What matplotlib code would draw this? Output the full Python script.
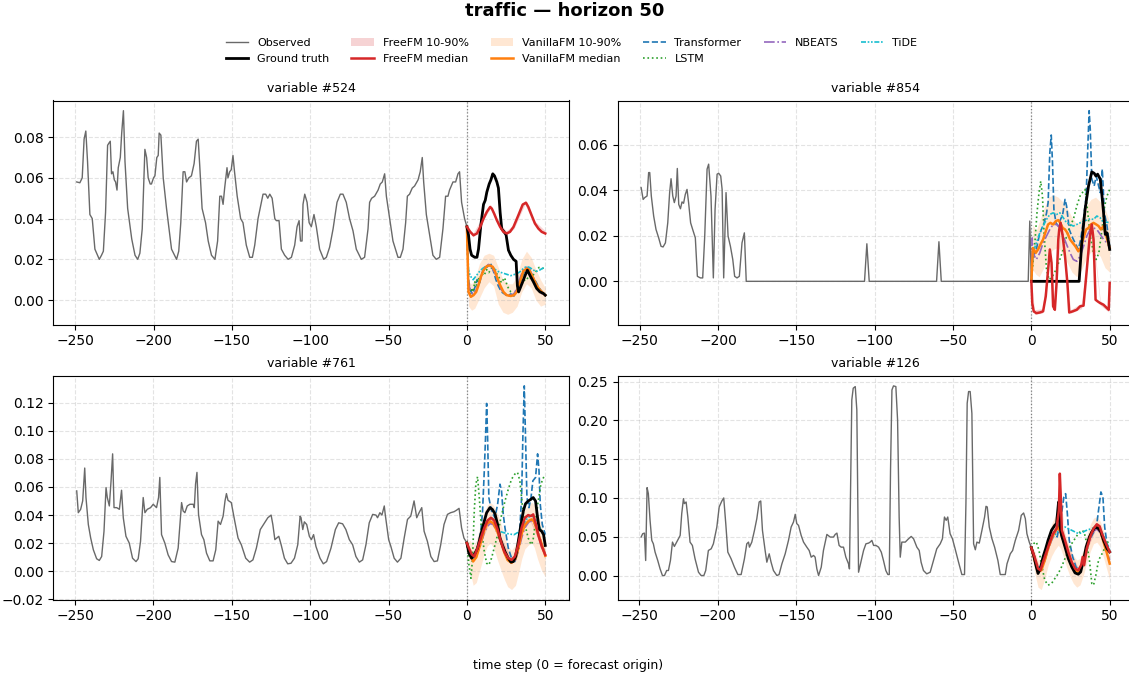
import matplotlib
matplotlib.use('Agg')
import matplotlib.pyplot as plt
import numpy as np

# ---- panel: variable #524 ----
OBS_524 = [(-249, 0.058), (-247, 0.0576), (-245.5, 0.060), (-244.3, 0.079), (-243.2, 0.083), (-242.1, 0.068),
           (-240.6, 0.042), (-239.1, 0.040), (-237.4, 0.025), (-234.6, 0.020), (-233.2, 0.022), (-232, 0.024),
           (-230.6, 0.043), (-229.3, 0.076), (-228.5, 0.077), (-227.6, 0.078), (-226.8, 0.062), (-225.9, 0.063),
           (-225, 0.059), (-224.2, 0.058), (-223.3, 0.054), (-222.5, 0.065), (-221.2, 0.070), (-220.3, 0.082),
           (-219.2, 0.093), (-218.2, 0.068), (-216.5, 0.045), (-213.9, 0.030), (-211.8, 0.022), (-210.1, 0.020),
           (-208.7, 0.023), (-207.2, 0.035), (-205.5, 0.074), (-204.4, 0.070), (-203.4, 0.060), (-202.1, 0.057),
           (-201.3, 0.057), (-200, 0.060), (-199.1, 0.061), (-197.9, 0.070), (-197, 0.071), (-196.4, 0.082),
           (-195.3, 0.081), (-193.8, 0.060), (-191.7, 0.045), (-188.5, 0.025), (-185.3, 0.020), (-183.9, 0.024),
           (-182.6, 0.038), (-181.1, 0.063), (-180, 0.063), (-178.9, 0.058), (-177.5, 0.060), (-175.8, 0.061),
           (-174.1, 0.067), (-172.6, 0.078), (-171.5, 0.079), (-170.5, 0.066), (-169, 0.045), (-166.8, 0.038),
           (-165.1, 0.029), (-163, 0.022), (-160.8, 0.020), (-159.1, 0.029), (-157.7, 0.051), (-156.6, 0.051),
           (-155.6, 0.047), (-154.6, 0.055), (-153.1, 0.065), (-152.5, 0.060), (-151.4, 0.063), (-150.4, 0.064),
           (-149.3, 0.071), (-148.3, 0.063), (-146.6, 0.051), (-144.4, 0.040), (-142.9, 0.038), (-140.8, 0.027),
           (-138.6, 0.021), (-136.9, 0.021), (-135.4, 0.027), (-133.3, 0.040), (-130.1, 0.052), (-128.4, 0.052),
           (-127.1, 0.050), (-125.8, 0.052), (-124.3, 0.050), (-122.6, 0.040), (-121.6, 0.039), (-119.9, 0.039),
           (-118.4, 0.025), (-116.3, 0.022), (-114.1, 0.020), (-112, 0.021), (-109.9, 0.027), (-108.4, 0.036),
           (-107.1, 0.039), (-106.2, 0.029), (-105.2, 0.029), (-104.6, 0.047), (-103.5, 0.052), (-102, 0.048),
           (-100.7, 0.038), (-99.3, 0.036), (-97.6, 0.042), (-96.1, 0.036), (-94, 0.025), (-91.4, 0.020),
           (-89.7, 0.021), (-87.6, 0.026), (-85.4, 0.035), (-82.9, 0.048), (-80.8, 0.052), (-79.1, 0.052),
           (-77, 0.048), (-74.9, 0.040), (-72.7, 0.034), (-70.6, 0.025), (-67.4, 0.020), (-65.3, 0.021),
           (-63.1, 0.035), (-62.1, 0.048), (-60.8, 0.050), (-58.9, 0.051), (-56.7, 0.054), (-55.3, 0.057),
           (-54, 0.058), (-52.5, 0.062), (-51.4, 0.051), (-49.7, 0.042), (-47.2, 0.029), (-44, 0.021),
           (-42.5, 0.021), (-40.8, 0.025), (-39.1, 0.038), (-38, 0.051), (-36.6, 0.052), (-34.9, 0.055),
           (-33.4, 0.056), (-31.2, 0.059), (-29.8, 0.063), (-28.5, 0.070), (-27.6, 0.058), (-25.9, 0.042),
           (-23.8, 0.032), (-21.7, 0.022), (-19.6, 0.020), (-17.4, 0.021), (-15.3, 0.035), (-13.6, 0.051),
           (-12.1, 0.051), (-11.1, 0.054), (-8.9, 0.058), (-7.2, 0.058), (-5.7, 0.062), (-4.7, 0.063),
           (-3.4, 0.048), (-1.5, 0.040), (0, 0.036)]
TRUTH_524 = [(0, 0.036), (1, 0.032), (2, 0.025), (3, 0.022), (5, 0.021), (6.4, 0.021), (7.4, 0.025), (8.9, 0.037),
             (10.6, 0.047), (11.7, 0.049), (12.7, 0.053), (14.2, 0.057), (15.3, 0.059), (16.5, 0.062), (17.6, 0.061),
             (19.1, 0.058), (20.1, 0.055), (21.2, 0.043), (22.2, 0.035), (23.7, 0.0335), (25, 0.032), (26.5, 0.0245),
             (28, 0.022), (29.7, 0.020), (31.4, 0.019), (32.2, 0.007), (33, 0.004), (33.9, 0.0057), (35.6, 0.009),
             (37.1, 0.012), (38.6, 0.0147), (40.3, 0.012), (42.4, 0.009), (44.5, 0.0057), (46.6, 0.004),
             (48.7, 0.0033), (50, 0.0024)]
FREE_524 = [(0, 0.036), (2.1, 0.0335), (4.2, 0.0318), (6.4, 0.0327), (8.5, 0.0359), (10.6, 0.040), (12.7, 0.0433),
            (14.8, 0.0457), (15.9, 0.0449), (17.4, 0.0424), (19.1, 0.0392), (21.2, 0.0359), (23.3, 0.0335),
            (25.4, 0.0327), (27.5, 0.0335), (29.7, 0.0359), (32.8, 0.0416), (35.6, 0.0469), (37.7, 0.0478),
            (39.2, 0.0457), (41.3, 0.0416), (43.4, 0.0376), (45.6, 0.0351), (47.7, 0.0335), (50, 0.0327)]
VAN_524 = [(0, 0.036), (1, 0.004), (2.5, 0.0016), (4.2, 0.0024), (5.9, 0.004), (7.4, 0.0073), (8.9, 0.0114),
           (10.6, 0.0147), (12.7, 0.0167), (14.8, 0.017), (16.5, 0.0163), (18, 0.0139), (19.5, 0.0106),
           (21.2, 0.0073), (23.3, 0.004), (25.4, 0.0024), (28, 0.002), (30.1, 0.0024), (31.8, 0.004), (33.9, 0.009),
           (36, 0.0142), (38.1, 0.0155), (39.8, 0.0147), (41.9, 0.0114), (44.5, 0.0073), (46.6, 0.0049),
           (48.7, 0.0033), (50, 0.0024)]
VAN_BAND_524 = [(0, 0.036, 0.036), (1, -0.003, 0.009), (3, -0.005, 0.008), (5, -0.004, 0.010), (8, 0.001, 0.018),
                (11, 0.006, 0.022), (14, 0.009, 0.023), (17, 0.007, 0.022), (20, -0.002, 0.016), (23, -0.006, 0.010),
                (26, -0.007, 0.008), (29, -0.006, 0.008), (32, -0.003, 0.012), (35, 0.004, 0.020), (38, 0.008, 0.024),
                (41, 0.006, 0.021), (44, 0.000, 0.015), (47, -0.003, 0.010), (50, -0.002, 0.006)]
FREE_BAND_524 = [(0, 0.036, 0.036), (4, 0.031, 0.033), (10, 0.039, 0.041), (15, 0.045, 0.047), (20, 0.037, 0.039),
                 (25, 0.032, 0.034), (30, 0.035, 0.037), (37, 0.047, 0.049), (43, 0.037, 0.039), (50, 0.032, 0.034)]
TRANSFORMER_524 = [(0, 0.036), (1, 0.010), (2, 0.005), (3.5, 0.003), (5, 0.006), (6.5, 0.010), (8, 0.008),
                   (9.5, 0.013), (11, 0.015), (12.5, 0.016), (14, 0.017), (15.5, 0.0175), (17, 0.014), (18.5, 0.010),
                   (20, 0.007), (22, 0.004), (24, 0.003), (26, 0.002), (28, 0.003), (30, 0.002), (32, 0.005),
                   (34, 0.009), (36, 0.013), (38, 0.016), (40, 0.015), (42, 0.011), (44, 0.009), (46, 0.006),
                   (48, 0.004), (50, 0.002)]
LSTM_524 = [(0, 0.036), (1, 0.006), (2, 0.003), (3, 0.006), (4, 0.004), (5, 0.009), (6, 0.007), (7, 0.011),
            (8, 0.010), (9.5, 0.013), (11, 0.012), (12.5, 0.015), (14, 0.0135), (16, 0.016), (18, 0.014), (20, 0.012),
            (22, 0.0085), (24, 0.011), (26, 0.0065), (28, 0.004), (30, 0.003), (32, 0.004), (34, 0.006), (36, 0.009),
            (38, 0.011), (40, 0.010), (42, 0.012), (44, 0.014), (46, 0.016), (48, 0.0155), (50, 0.016)]
NBEATS_524 = [(0, 0.036), (1, 0.008), (2.5, 0.004), (4, 0.003), (6, 0.005), (8, 0.009), (10, 0.014), (12, 0.017),
              (14, 0.0175), (16, 0.016), (18, 0.013), (20, 0.009), (22, 0.005), (24, 0.003), (26, 0.002),
              (28, 0.0025), (30, 0.003), (32, 0.006), (34, 0.011), (36, 0.015), (38, 0.016), (40, 0.015),
              (42, 0.012), (44, 0.008), (46, 0.005), (48, 0.003), (50, 0.003)]
TIDE_524 = [(0, 0.036), (1, 0.015), (2, 0.012), (4, 0.010), (6, 0.012), (8, 0.014), (10, 0.0155), (12, 0.0165),
            (14, 0.017), (16, 0.0165), (18, 0.015), (20, 0.014), (22, 0.0135), (24, 0.013), (26, 0.0125), (28, 0.012),
            (30, 0.0125), (32, 0.013), (34, 0.014), (36, 0.0155), (38, 0.0165), (40, 0.016), (42, 0.015),
            (44, 0.014), (46, 0.0145), (48, 0.0155), (50, 0.016)]

# ---- panel: variable #854 ----
OBS_854 = [(-249.1, 0.0412), (-247.8, 0.036), (-246.8, 0.0368), (-245.3, 0.0375), (-244.3, 0.0478),
           (-243.6, 0.0478), (-242.6, 0.0375), (-241.1, 0.0287), (-239.6, 0.0228), (-237.9, 0.0191),
           (-236.4, 0.0154), (-235.1, 0.0151), (-233.6, 0.0169), (-232.1, 0.0257), (-230.9, 0.039), (-230, 0.0451),
           (-228.9, 0.0375), (-227.9, 0.0346), (-226.8, 0.0375), (-226, 0.0496), (-225.1, 0.0338), (-224, 0.0319),
           (-223, 0.0349), (-222, 0.0343), (-220.9, 0.0382), (-219.8, 0.0404), (-218.8, 0.0346), (-217.5, 0.0257),
           (-216.2, 0.0228), (-214.5, 0.0191), (-213.2, 0.0022), (-211.3, 0.0015), (-209.8, 0.0015),
           (-208.5, 0.0199), (-207, 0.0493), (-206, 0.0515), (-204.5, 0.0375), (-203, 0.0015), (-201.9, 0.0316),
           (-200.6, 0.0471), (-199.6, 0.0475), (-198.3, 0.0463), (-197.4, 0.0404), (-196.4, 0.0015),
           (-194.9, 0.039), (-193.6, 0.0199), (-192.1, 0.0154), (-190.6, 0.0096), (-189.4, 0.0022),
           (-187.9, 0.0015), (-186.4, 0.0022), (-184.7, 0.0169), (-183.2, 0.0213), (-182, 0.0), (-106.5, 0.0),
           (-105, 0.0165), (-103.5, 0.0), (-60.5, 0.0), (-59, 0.0174), (-57.5, 0.0), (-2, 0.0), (-1, 0.0265),
           (0, 0.0)]
TRUTH_854 = [(0, 0.0), (30.5, 0.0), (32.2, 0.0169), (34.3, 0.0316), (36.5, 0.0419), (38.6, 0.0481), (40.1, 0.0475),
             (41.2, 0.0463), (42.3, 0.0471), (44, 0.0449), (45.1, 0.0375), (46.1, 0.0301), (47.2, 0.0206),
             (48.3, 0.0213), (50, 0.014)]
FREE_854 = [(0, 0.0), (0.6, -0.0096), (1.5, -0.0132), (3.2, -0.014), (5.4, -0.0137), (7.5, -0.0132), (9.2, -0.0066),
            (10.7, 0.0051), (11.8, 0.014), (12.9, 0.0081), (13.9, -0.011), (15, -0.0125), (16.1, -0.0007),
            (17.2, 0.0184), (17.8, 0.0228), (18.7, 0.0257), (20, 0.0199), (21.5, 0.011), (23, -0.0007),
            (24.2, -0.0137), (26.4, -0.0132), (29, -0.0125), (31.1, -0.011), (33.3, -0.0107), (35.4, 0.0051),
            (37.1, 0.0184), (38.6, 0.025), (39.7, 0.0184), (41, -0.0081), (42.3, -0.0088), (44, -0.0096),
            (46.1, -0.0103), (48.3, -0.0118), (49.4, -0.0125), (50, -0.0007)]
VAN_854 = [(0, 0.0), (1, 0.0147), (2.8, 0.0125), (4.3, 0.014), (5.8, 0.0162), (7.5, 0.0184), (9.2, 0.022),
           (10.7, 0.025), (12.2, 0.0257), (13.9, 0.025), (15.7, 0.0265), (17.2, 0.0269), (18.2, 0.026), (20, 0.0235),
           (21.5, 0.0228), (23, 0.0213), (24.7, 0.0184), (26.4, 0.0169), (28.1, 0.0154), (30, 0.0132),
           (31.5, 0.0147), (33.3, 0.0191), (35, 0.0228), (36.5, 0.0235), (38, 0.025), (39.7, 0.0257), (41.4, 0.025),
           (42.9, 0.0243), (44.4, 0.0228), (46.1, 0.0243), (47.8, 0.0199), (50, 0.0147)]
VAN_BAND_854 = [(0, 0.0, 0.0), (1, 0.005, 0.025), (3, 0.003, 0.022), (5, 0.002, 0.026), (8, 0.006, 0.032),
                (11, 0.012, 0.037), (14, 0.014, 0.038), (17, 0.015, 0.037), (20, 0.012, 0.035), (23, 0.008, 0.032),
                (26, 0.004, 0.028), (29, 0.002, 0.025), (32, 0.005, 0.028), (35, 0.010, 0.033), (38, 0.013, 0.036),
                (41, 0.013, 0.037), (44, 0.011, 0.035), (47, 0.006, 0.032), (50, 0.004, 0.026)]
FREE_BAND_854 = [(0, 0.0, 0.0), (2, -0.0145, -0.0125), (7, -0.014, -0.012), (12, 0.012, 0.015), (15, -0.0135, -0.011),
                 (19, 0.024, 0.027), (25, -0.014, -0.0125), (32, -0.012, -0.0095), (38.6, 0.023, 0.026),
                 (44, -0.0105, -0.0085), (49.4, -0.0135, -0.0115), (50, -0.0015, 0.0)]
TRANSFORMER_854 = [(0, 0.0), (1, 0.0125), (2, 0.012), (3.2, 0.014), (5, 0.020), (6.4, 0.0228), (7.9, 0.025),
                   (9.7, 0.030), (10.7, 0.0346), (11.8, 0.0566), (12.7, 0.0643), (13.5, 0.0522), (14.4, 0.0316),
                   (15.7, 0.0257), (17.2, 0.0243), (18.2, 0.0265), (20, 0.0294), (21.5, 0.036), (22.5, 0.0331),
                   (24.2, 0.0228), (25.8, 0.0199), (27.9, 0.0169), (30, 0.014), (31.5, 0.0184), (33.3, 0.0272),
                   (35, 0.0375), (36, 0.0581), (36.9, 0.075), (37.6, 0.0669), (38.6, 0.0449), (40.1, 0.0419),
                   (41.4, 0.0463), (42.7, 0.0426), (44, 0.039), (45.3, 0.0493), (46.6, 0.0301), (48.3, 0.0243),
                   (50, 0.0154)]
LSTM_854 = [(0, 0.0007), (2.1, 0.0154), (3.6, 0.0301), (4.9, 0.039), (6, 0.044), (7.1, 0.0375), (8.2, 0.0199),
            (9.7, 0.0051), (11.4, 0.0007), (13.5, 0.0022), (15.7, 0.0051), (18.2, 0.0096), (20.4, 0.014),
            (22.5, 0.0199), (24.7, 0.0243), (26.8, 0.0272), (29, 0.0331), (31.1, 0.0375), (33.3, 0.0397),
            (34.3, 0.0404), (35.8, 0.0316), (37.6, 0.0199), (39.7, 0.0125), (41.4, 0.0096), (43.1, 0.0125),
            (45.1, 0.0228), (46.8, 0.0331), (48.3, 0.0375), (50, 0.0404)]
NBEATS_854 = [(0, 0.0), (0.5, 0.0191), (1.5, 0.0118), (3.2, 0.0096), (5.4, 0.0125), (7.5, 0.0169), (9.7, 0.0199),
              (11.8, 0.0228), (13.9, 0.025), (16.1, 0.025), (18.2, 0.0235), (20.4, 0.0199), (22.5, 0.0162),
              (24.7, 0.0125), (26.8, 0.0096), (29, 0.0088), (31.1, 0.011), (33.3, 0.0154), (35.4, 0.0199),
              (37.6, 0.0228), (39.7, 0.0235), (41.8, 0.0228), (44, 0.0206), (46.1, 0.0184), (48.3, 0.0169),
              (50, 0.0147)]
TIDE_854 = [(0, 0.002), (1, 0.0125), (3.2, 0.0169), (5.4, 0.0213), (7.5, 0.0243), (9.7, 0.0272), (11.8, 0.0294),
            (13.9, 0.0301), (16.1, 0.0294), (18.2, 0.0301), (20.4, 0.0279), (22.5, 0.0257), (24.7, 0.025),
            (26.8, 0.0243), (29, 0.025), (31.1, 0.0257), (33.3, 0.0265), (35.4, 0.0269), (37.6, 0.0275),
            (39.7, 0.0272), (41.8, 0.0287), (44, 0.0279), (46.1, 0.0257), (48.3, 0.026), (50, 0.0257)]

# ---- panel: variable #761 ----
OBS_761 = [(-248.9, 0.0572), (-247.9, 0.0417), (-246.4, 0.0441), (-245.1, 0.0501), (-243.8, 0.0735), (-243, 0.0525),
           (-241.5, 0.0333), (-240, 0.0237), (-238.3, 0.0153), (-236.2, 0.0089), (-234.5, 0.0077), (-233, 0.0105),
           (-231.5, 0.0285), (-230.2, 0.0596), (-229.4, 0.0525), (-228.1, 0.0465), (-227, 0.0644), (-226, 0.0836),
           (-225.1, 0.0453), (-223.4, 0.0453), (-221.7, 0.0441), (-220.3, 0.0577), (-219.2, 0.0381),
           (-217.5, 0.0249), (-215.4, 0.0201), (-213.3, 0.0093), (-211.1, 0.0069), (-209.7, 0.0089),
           (-208.2, 0.0213), (-206.5, 0.0525), (-205.4, 0.0417), (-203.9, 0.0441), (-201.8, 0.0453),
           (-200.1, 0.0477), (-198, 0.0453), (-196.7, 0.0525), (-195.9, 0.0668), (-194.8, 0.0261), (-192.7, 0.0201),
           (-190.6, 0.0117), (-188.4, 0.0069), (-186.3, 0.0065), (-184.2, 0.0165), (-182, 0.0489), (-181, 0.0429),
           (-179.9, 0.0417), (-178.4, 0.0465), (-176.7, 0.0477), (-174.6, 0.0477), (-173.9, 0.0453),
           (-173.1, 0.062), (-172.2, 0.0704), (-171.2, 0.0405), (-169.3, 0.0261), (-167.8, 0.0225), (-166.1, 0.0129),
           (-164, 0.0074), (-161.9, 0.0074), (-160.2, 0.0153), (-158.7, 0.0357), (-157.2, 0.0333), (-155.5, 0.0393),
           (-154.3, 0.0501), (-153.4, 0.0553), (-152.4, 0.0505), (-150.3, 0.0489), (-148.1, 0.0357), (-146, 0.0237),
           (-143.9, 0.0189), (-141.1, 0.0093), (-138.6, 0.0065), (-136.5, 0.0081), (-134.3, 0.0165),
           (-131.8, 0.0297), (-129.1, 0.0345), (-127, 0.0381), (-124.9, 0.040), (-123.8, 0.0333), (-122.5, 0.0225),
           (-121.3, 0.0237), (-120, 0.0249), (-118.5, 0.0189), (-116.4, 0.0093), (-114.3, 0.0053), (-112.2, 0.0057),
           (-110, 0.0093), (-107.9, 0.0189), (-106.4, 0.0393), (-105.8, 0.0381), (-104.7, 0.0297), (-103.7, 0.0352),
           (-102.2, 0.0333), (-100.5, 0.0249), (-99.2, 0.0225), (-97.8, 0.0261), (-96.3, 0.0177), (-93.7, 0.0093),
           (-91.6, 0.0053), (-89.5, 0.0069), (-86.7, 0.0165), (-83.9, 0.0297), (-81.8, 0.0345), (-79.3, 0.0338),
           (-77.2, 0.0297), (-75, 0.0225), (-72.9, 0.0189), (-70.8, 0.0105), (-68.6, 0.0065), (-66.5, 0.0081),
           (-64.4, 0.0189), (-62.3, 0.0345), (-60.1, 0.0405), (-58, 0.040), (-57, 0.0381), (-55.5, 0.0417),
           (-54.2, 0.040), (-52.7, 0.0465), (-52.1, 0.0405), (-49.9, 0.0225), (-48.5, 0.0177), (-46.4, 0.0093),
           (-44.3, 0.0065), (-42.1, 0.0093), (-40, 0.0237), (-37.9, 0.0369), (-35.8, 0.0393), (-33.7, 0.0501),
           (-32, 0.0381), (-30.5, 0.0417), (-28.8, 0.0453), (-27.3, 0.0285), (-25.2, 0.0213), (-23, 0.0105),
           (-20.9, 0.0069), (-18.8, 0.0074), (-16.7, 0.0189), (-14.6, 0.0333), (-12.4, 0.0405), (-10.4, 0.0417),
           (-8.2, 0.0424), (-6.7, 0.0434), (-5, 0.0448), (-3.4, 0.0309), (-1.9, 0.0237), (0, 0.0201)]
TRUTH_761 = [(0, 0.0201), (1.3, 0.0129), (3, 0.0093), (4.7, 0.0117), (6.8, 0.0165), (8.9, 0.0261), (11.1, 0.0357),
             (12.6, 0.0417), (14.7, 0.0453), (16.2, 0.0441), (17.9, 0.041), (19.6, 0.0333), (21.1, 0.0237),
             (22.6, 0.0189), (24.3, 0.0141), (26.4, 0.0093), (28.1, 0.0065), (29.6, 0.0069), (31.1, 0.0105),
             (32.8, 0.0213), (34.5, 0.0333), (36, 0.0429), (37.4, 0.0481), (39.1, 0.050), (40.9, 0.0513),
             (42.3, 0.0525), (43.8, 0.050), (45.1, 0.0381), (46.2, 0.0297), (47.7, 0.0285), (48.9, 0.0261),
             (50, 0.0184)]
FREE_761 = [(0, 0.0201), (1.3, 0.0165), (3, 0.0122), (4.7, 0.0105), (6.8, 0.0165), (8.9, 0.0237), (11.1, 0.0309),
            (13.2, 0.0362), (15.3, 0.0381), (17.4, 0.0362), (19.6, 0.0297), (21.7, 0.0213), (23.8, 0.0141),
            (26.4, 0.0093), (28.5, 0.0081), (30.6, 0.0105), (32.8, 0.0189), (34.9, 0.0309), (37, 0.0381),
            (39.1, 0.040), (40.9, 0.0393), (42.3, 0.0405), (43.8, 0.0345), (45.5, 0.0261), (47.7, 0.0177),
            (50, 0.0117)]
VAN_761 = [(0, 0.0201), (2, 0.012), (4, 0.007), (6, 0.010), (8.5, 0.019), (11, 0.029), (13, 0.034), (15, 0.0355),
           (17, 0.034), (19.5, 0.028), (22, 0.020), (24, 0.013), (26, 0.008), (28.5, 0.006), (31, 0.009), (33, 0.017),
           (35, 0.027), (37, 0.033), (39.5, 0.036), (41.5, 0.037), (43, 0.035), (45, 0.028), (47.5, 0.020),
           (50, 0.011)]
VAN_BAND_761 = [(0, 0.0201, 0.0201), (2, 0.000, 0.022), (4, -0.010, 0.018), (6, -0.008, 0.022), (8.5, 0.002, 0.032),
                (11, 0.012, 0.042), (13, 0.018, 0.047), (15, 0.020, 0.049), (17, 0.017, 0.047), (19.5, 0.008, 0.041),
                (22, 0.000, 0.033), (24, -0.006, 0.025), (26, -0.011, 0.018), (28.5, -0.013, 0.015), (31, -0.010, 0.019),
                (33, -0.001, 0.028), (35, 0.009, 0.038), (37, 0.016, 0.044), (39.5, 0.019, 0.048), (41.5, 0.020, 0.049),
                (43, 0.017, 0.047), (45, 0.009, 0.041), (47.5, 0.001, 0.033), (50, -0.004, 0.022)]
FREE_BAND_761 = [(0, 0.0201, 0.0201), (4.7, 0.0095, 0.0115), (15.3, 0.037, 0.039), (28.5, 0.007, 0.009),
                 (39.1, 0.039, 0.041), (50, 0.0105, 0.0125)]
TRANSFORMER_761 = [(0, 0.021), (1.3, 0.014), (3, 0.0105), (5.1, 0.013), (7.2, 0.019), (8.9, 0.0285), (10, 0.0429),
                   (11.1, 0.0716), (11.9, 0.0956), (12.6, 0.1195), (13.2, 0.0956), (14, 0.0525), (15.7, 0.0429),
                   (17.9, 0.0381), (19.6, 0.0477), (21.1, 0.062), (22.1, 0.0572), (23.2, 0.0405), (24.3, 0.0309),
                   (26.4, 0.0165), (28.5, 0.0093), (30.6, 0.0069), (32.3, 0.0141), (33.8, 0.0309), (34.9, 0.0525),
                   (35.7, 0.0956), (36.6, 0.132), (37.4, 0.0956), (38.3, 0.0525), (39.6, 0.0453), (40.9, 0.0525),
                   (42.1, 0.0644), (43.8, 0.0668), (45.1, 0.0836), (46, 0.0716), (46.8, 0.0477), (48.1, 0.0333),
                   (50, 0.0261)]
LSTM_761 = [(0, 0.021), (1.3, 0.0045), (2.6, -0.005), (3.6, 0.0093), (4.7, 0.0429), (5.7, 0.062), (6.8, 0.0673),
            (7.9, 0.0525), (9.4, 0.0285), (11.1, 0.0141), (12.6, 0.0057), (14, 0.0045), (15.7, 0.0093),
            (17.4, 0.0165), (19.6, 0.0261), (21.7, 0.0381), (24.3, 0.050), (26.4, 0.0584), (28.5, 0.0656),
            (30.6, 0.0692), (32.3, 0.0704), (33.8, 0.0644), (35.3, 0.0477), (37, 0.0333), (39.1, 0.0237),
            (40.9, 0.0189), (42.1, 0.0213), (43.8, 0.0357), (45.5, 0.050), (47.2, 0.062), (48.9, 0.0668),
            (50, 0.0687)]
NBEATS_761 = [(0, 0.0201), (2, 0.013), (4, 0.009), (6, 0.011), (8.5, 0.018), (11, 0.027), (13, 0.032), (15, 0.034),
              (17, 0.033), (19.5, 0.027), (22, 0.019), (24, 0.013), (26, 0.008), (28.5, 0.006), (31, 0.008),
              (33, 0.015), (35, 0.024), (37, 0.031), (39.5, 0.035), (41.5, 0.036), (43, 0.034), (45, 0.029),
              (47.5, 0.021), (50, 0.012)]
TIDE_761 = [(0, 0.0201), (2, 0.012), (4, 0.009), (7, 0.016), (10, 0.030), (13, 0.036), (16, 0.038), (18, 0.036),
            (20, 0.030), (22, 0.028), (25, 0.027), (30, 0.026), (33, 0.028), (36, 0.033), (38, 0.037), (41, 0.040),
            (43, 0.038), (45, 0.035), (47, 0.030), (50, 0.024)]

# ---- panel: variable #126 ----
OBS_126 = [(-248.9, 0.0496), (-247.9, 0.0539), (-246.8, 0.0547), (-246, 0.0194), (-245.1, 0.1133), (-244.3, 0.1056),
           (-243.2, 0.0711), (-242.1, 0.0453), (-241.1, 0.0409), (-240, 0.0302), (-238.3, 0.0194), (-236.8, 0.0086),
           (-235.3, 0.0), (-234, 0.0), (-232.6, 0.0065), (-231.5, 0.0065), (-230.2, 0.0194), (-228.9, 0.0431),
           (-227.7, 0.0375), (-226.2, 0.0431), (-225.1, 0.0474), (-224, 0.0517), (-223, 0.0797), (-221.9, 0.0991),
           (-221.3, 0.0927), (-220.2, 0.0948), (-219.1, 0.0754), (-217.7, 0.0431), (-216.2, 0.0388),
           (-214.5, 0.0216), (-212.3, 0.0043), (-210.6, 0.0), (-208.9, 0.0), (-207.7, 0.0065), (-206, 0.0323),
           (-204.2, 0.0345), (-202.8, 0.0409), (-200.6, 0.0625), (-199.1, 0.0884), (-197.4, 0.0961), (-196.2, 0.100),
           (-194.9, 0.0668), (-193.6, 0.0302), (-191.5, 0.0216), (-189.4, 0.0108), (-187.2, 0.0013),
           (-185.1, 0.0013), (-183, 0.0216), (-181.5, 0.0409), (-180.4, 0.0431), (-179.8, 0.0366), (-178.3, 0.0431),
           (-176.6, 0.0582), (-175.1, 0.0733), (-173.6, 0.0948), (-172.6, 0.0961), (-171.5, 0.0582),
           (-169.8, 0.0323), (-168.7, 0.0172), (-167.2, 0.028), (-166, 0.0172), (-164.5, 0.0065), (-162.3, 0.0),
           (-160.9, 0.0013), (-159.1, 0.0151), (-157, 0.028), (-154.9, 0.0453), (-153.2, 0.0625), (-151.7, 0.069),
           (-150.6, 0.0789), (-149.6, 0.0668), (-148.5, 0.0647), (-146.8, 0.0517), (-145.3, 0.0431),
           (-143.2, 0.0366), (-141.7, 0.0323), (-140.4, 0.0237), (-138.9, 0.0259), (-137.9, 0.0237),
           (-136.8, 0.0086), (-135.7, 0.0), (-134, 0.0108), (-132.6, 0.0323), (-130.4, 0.053), (-128.3, 0.0496),
           (-126.2, 0.0496), (-125.1, 0.053), (-124, 0.0547), (-122.6, 0.0388), (-121.3, 0.0366), (-119.8, 0.0366),
           (-118.3, 0.0237), (-116.6, 0.0151), (-116, 0.0086), (-114.5, 0.2263), (-113.6, 0.2414), (-112.3, 0.2435),
           (-111.3, 0.2134), (-110.2, 0.0043), (-108.5, 0.0194), (-107, 0.0323), (-105.5, 0.0409), (-103.8, 0.0418),
           (-102.8, 0.0431), (-101.7, 0.0453), (-100.6, 0.0388), (-99.1, 0.0388), (-97.4, 0.0366), (-95.7, 0.0302),
           (-94.3, 0.0194), (-92.8, 0.0065), (-91.5, 0.0013), (-90.6, 0.0013), (-89.8, 0.1358), (-88.9, 0.2392),
           (-87.9, 0.2444), (-86.4, 0.2435), (-85.3, 0.2004), (-84.3, 0.0754), (-83.6, 0.0237), (-82.6, 0.0431),
           (-80.4, 0.0431), (-78.3, 0.0474), (-76.6, 0.0504), (-75.1, 0.0474), (-73, 0.0366), (-71.5, 0.0323),
           (-70.3, 0.0172), (-68.8, 0.0065), (-66.7, 0.0022), (-64.5, 0.0043), (-62.4, 0.0194), (-60.3, 0.0345),
           (-58.1, 0.0409), (-56.7, 0.0474), (-55.4, 0.0754), (-54.3, 0.0711), (-53.3, 0.0754), (-51.8, 0.0539),
           (-50.3, 0.0474), (-48.6, 0.0345), (-46.4, 0.0172), (-44.3, 0.0013), (-42.6, 0.0013), (-41.7, 0.0927),
           (-40.9, 0.222), (-40, 0.2371), (-39, 0.2371), (-37.9, 0.209), (-36.8, 0.0409), (-35.7, 0.0332),
           (-34.7, 0.0431), (-33.2, 0.0418), (-31.5, 0.0582), (-29.8, 0.0754), (-28.9, 0.0892), (-28.1, 0.0884),
           (-26.8, 0.0625), (-25.1, 0.0474), (-23.4, 0.0366), (-21.3, 0.0194), (-19.8, 0.0013), (-16.6, 0.0013),
           (-15.5, 0.0151), (-13.4, 0.028), (-11.9, 0.0323), (-10.2, 0.0453), (-8.1, 0.0582), (-6.4, 0.0776),
           (-4.9, 0.0806), (-3.8, 0.0733), (-2.8, 0.0539), (-1.3, 0.0431), (0, 0.036)]
TRUTH_126 = [(0, 0.036), (1.5, 0.0262), (3.2, 0.0112), (4.3, 0.0026), (5.8, 0.009), (7.5, 0.024), (9.2, 0.0348),
             (10.7, 0.0455), (12.9, 0.0584), (15, 0.0648), (16.1, 0.0669), (16.7, 0.0798), (17.4, 0.0948),
             (18.2, 0.0648), (19.3, 0.0519), (21.5, 0.0369), (23.6, 0.0219), (25.8, 0.0112), (27.9, 0.0034),
             (30, 0.0017), (31.5, 0.0047), (33.3, 0.0197), (35, 0.0369), (37.1, 0.0498), (38.6, 0.0562),
             (40.8, 0.0626), (42.9, 0.0605), (44.4, 0.0562), (46.1, 0.0455), (48.3, 0.0348), (50, 0.0305)]
FREE_126 = [(0, 0.036), (2.1, 0.024), (4.3, 0.009), (5.8, 0.0069), (7.5, 0.0176), (9.7, 0.0305), (11.8, 0.0433),
            (13.9, 0.0541), (16.1, 0.0605), (17.6, 0.0841), (18.2, 0.1313), (18.9, 0.097), (19.5, 0.0583),
            (21.5, 0.0455), (23.6, 0.0305), (25.8, 0.0176), (27.9, 0.009), (30, 0.0069), (31.8, 0.0133),
            (32.8, 0.024), (33.7, 0.0133), (35.4, 0.0348), (37.6, 0.0498), (39.7, 0.0605), (41.8, 0.0661),
            (43.6, 0.0635), (45.1, 0.0541), (47.2, 0.0433), (50, 0.0305)]
VAN_126 = [(0, 0.036), (2.1, 0.0197), (4.3, 0.0047), (6.4, 0.0069), (8.6, 0.0197), (10.7, 0.0348), (12.9, 0.0476),
           (15, 0.0562), (17.2, 0.0626), (18.7, 0.0562), (20.4, 0.0455), (22.5, 0.0326), (24.7, 0.0197),
           (26.8, 0.009), (29, 0.0047), (31.1, 0.0069), (33.3, 0.0197), (35.4, 0.0369), (37.6, 0.0519),
           (39.7, 0.0605), (41.8, 0.0626), (44, 0.0575), (46.1, 0.0433), (48.3, 0.0283), (50, 0.0154)]
VAN_BAND_126 = [(0, 0.036, 0.036), (2.1, 0.004, 0.032), (4.3, -0.015, 0.020), (6.4, -0.018, 0.022), (8.6, -0.004, 0.036),
                (10.7, 0.013, 0.052), (12.9, 0.025, 0.066), (15, 0.033, 0.076), (17.2, 0.039, 0.082), (18.7, 0.035, 0.074),
                (20.4, 0.025, 0.062), (22.5, 0.011, 0.048), (24.7, -0.001, 0.036), (26.8, -0.010, 0.026),
                (29, -0.015, 0.020), (31.1, -0.012, 0.022), (33.3, 0.001, 0.034), (35.4, 0.017, 0.052),
                (37.6, 0.031, 0.066), (39.7, 0.041, 0.074), (41.8, 0.043, 0.076), (44, 0.037, 0.070),
                (46.1, 0.023, 0.058), (48.3, 0.007, 0.044), (50, -0.005, 0.032)]
FREE_BAND_126 = [(0, 0.036, 0.036), (5.8, 0.005, 0.009), (13.9, 0.052, 0.056), (17.6, 0.080, 0.088), (18.2, 0.122, 0.134),
                 (18.9, 0.091, 0.101), (21.5, 0.043, 0.048), (30, 0.005, 0.009), (41.8, 0.064, 0.068), (50, 0.028, 0.033)]
TRANSFORMER_126 = [(0, 0.036), (2.1, 0.0219), (4.3, 0.0069), (6.4, 0.0112), (8.6, 0.0262), (10.7, 0.0412),
                   (12.9, 0.0498), (15, 0.0562), (16.5, 0.0498), (17.8, 0.0626), (19.3, 0.0798), (20.8, 0.1012),
                   (21.9, 0.1055), (23, 0.0798), (24.2, 0.0455), (26.4, 0.024), (28.5, 0.0112), (30.7, 0.0069),
                   (32.8, 0.0133), (35, 0.0283), (37.1, 0.0455), (39.3, 0.0541), (41.4, 0.0605), (42.9, 0.0841),
                   (44.4, 0.1077), (45.7, 0.1012), (46.8, 0.0626), (48.3, 0.0412), (50, 0.0326)]
LSTM_126 = [(0, 0.036), (1.5, 0.0412), (3.2, 0.0433), (4.9, 0.0326), (6.4, 0.0154), (8.6, -0.006), (10.7, -0.0124),
            (12.9, -0.0103), (15, -0.0039), (17.2, 0.0026), (19.3, 0.0112), (21.5, 0.0219), (23.6, 0.0326),
            (25.8, 0.0412), (27.9, 0.0476), (30, 0.0541), (32.2, 0.0583), (33.7, 0.0562), (35.4, 0.0412),
            (37.1, 0.0197), (38.6, -0.0103), (39.7, -0.0124), (41.4, 0.0026), (42.9, 0.0197), (45.1, 0.028),
            (48.3, 0.041), (50, 0.047)]
NBEATS_126 = [(0, 0.036), (2.1, 0.021), (4.3, 0.006), (6.4, 0.008), (8.6, 0.019), (10.7, 0.033), (12.9, 0.045),
              (15, 0.054), (17.2, 0.059), (18.7, 0.055), (20.4, 0.045), (22.5, 0.033), (24.7, 0.021), (26.8, 0.011),
              (29, 0.006), (31.1, 0.008), (33.3, 0.019), (35.4, 0.034), (37.6, 0.048), (39.7, 0.057), (41.8, 0.060),
              (44, 0.055), (46.1, 0.043), (48.3, 0.030), (50, 0.020)]
TIDE_126 = [(0, 0.036), (2.1, 0.024), (4.3, 0.009), (6.4, 0.0154), (8.6, 0.0283), (10.7, 0.039), (12.9, 0.0476),
            (15, 0.0519), (17.2, 0.0583), (19.3, 0.0626), (21.5, 0.0626), (23.6, 0.0605), (25.8, 0.0583),
            (27.9, 0.0562), (30, 0.0541), (32.2, 0.0549), (34.3, 0.0575), (36.5, 0.0592), (38.6, 0.0605),
            (40.8, 0.0626), (42.9, 0.0605), (45.1, 0.0562), (47.2, 0.0455), (50, 0.0348)]

PANELS = [
    ('524', OBS_524, TRUTH_524, FREE_524, FREE_BAND_524, VAN_524, VAN_BAND_524,
     TRANSFORMER_524, LSTM_524, NBEATS_524, TIDE_524),
    ('854', OBS_854, TRUTH_854, FREE_854, FREE_BAND_854, VAN_854, VAN_BAND_854,
     TRANSFORMER_854, LSTM_854, NBEATS_854, TIDE_854),
    ('761', OBS_761, TRUTH_761, FREE_761, FREE_BAND_761, VAN_761, VAN_BAND_761,
     TRANSFORMER_761, LSTM_761, NBEATS_761, TIDE_761),
    ('126', OBS_126, TRUTH_126, FREE_126, FREE_BAND_126, VAN_126, VAN_BAND_126,
     TRANSFORMER_126, LSTM_126, NBEATS_126, TIDE_126),
]


def xy(pts):
    a = np.array(pts)
    return a[:, 0], a[:, 1]


fig = plt.figure(figsize=(11.29, 6.77), dpi=100)
W, H = 1129.0, 677.0
boxes = [(53.3, 100.5), (617.7, 100.5), (53.3, 375.7), (617.7, 375.7)]
aw, ah = 515.4, 224.0

for (left, top), p in zip(boxes, PANELS):
    name, obs, truth, free, free_band, van, van_band, tr, ls, nb, td = p
    ax = fig.add_axes([left / W, 1 - (top + ah) / H, aw / W, ah / H])
    ax.grid(True, linestyle='--', linewidth=0.8, color='#b0b0b0', alpha=0.35)
    ax.axvline(0, color='gray', linestyle=':', linewidth=0.9)

    t, v = xy(obs)
    h_obs, = ax.plot(t, v, color='dimgray', lw=1.0, label='Observed')

    vb = np.array(van_band)
    h_vb = ax.fill_between(vb[:, 0], vb[:, 1], vb[:, 2], color='tab:orange', alpha=0.18, lw=0,
                           label='VanillaFM 10-90%')
    fb = np.array(free_band)
    h_fb = ax.fill_between(fb[:, 0], fb[:, 1], fb[:, 2], color='tab:red', alpha=0.2, lw=0,
                           label='FreeFM 10-90%')

    t, v = xy(tr)
    h_tr, = ax.plot(t, v, color='tab:blue', ls='--', lw=1.2, label='Transformer')
    t, v = xy(ls)
    h_ls, = ax.plot(t, v, color='tab:green', ls=':', lw=1.2, label='LSTM')
    t, v = xy(nb)
    h_nb, = ax.plot(t, v, color='tab:purple', ls='-.', lw=1.2, label='NBEATS')
    t, v = xy(td)
    h_td, = ax.plot(t, v, color='tab:cyan', ls=(0, (3, 1, 1, 1, 1, 1)), lw=1.2, label='TiDE')
    t, v = xy(van)
    h_van, = ax.plot(t, v, color='tab:orange', lw=1.8, label='VanillaFM median')
    t, v = xy(truth)
    h_gt, = ax.plot(t, v, color='black', lw=2.0, label='Ground truth')
    t, v = xy(free)
    h_free, = ax.plot(t, v, color='tab:red', lw=1.8, label='FreeFM median')

    ax.set_title('variable #' + name, fontsize=9)
    ax.tick_params(labelsize=10)

handles = [h_obs, h_gt, h_fb, h_free, h_vb, h_van, h_tr, h_ls, h_nb, h_td]
fig.legend(handles=handles, labels=[h.get_label() for h in handles], loc='center',
           bbox_to_anchor=(0.506, 1 - 51 / H), ncol=6, frameon=False, fontsize=8)

fig.text(0.5, 1 - 11 / H, 'traffic — horizon 50', ha='center', va='center', fontsize=13, fontweight='bold')
fig.text(0.503, 1 - 665 / H, 'time step (0 = forecast origin)', ha='center', va='center', fontsize=9)

fig.savefig('out.png', dpi=100)
